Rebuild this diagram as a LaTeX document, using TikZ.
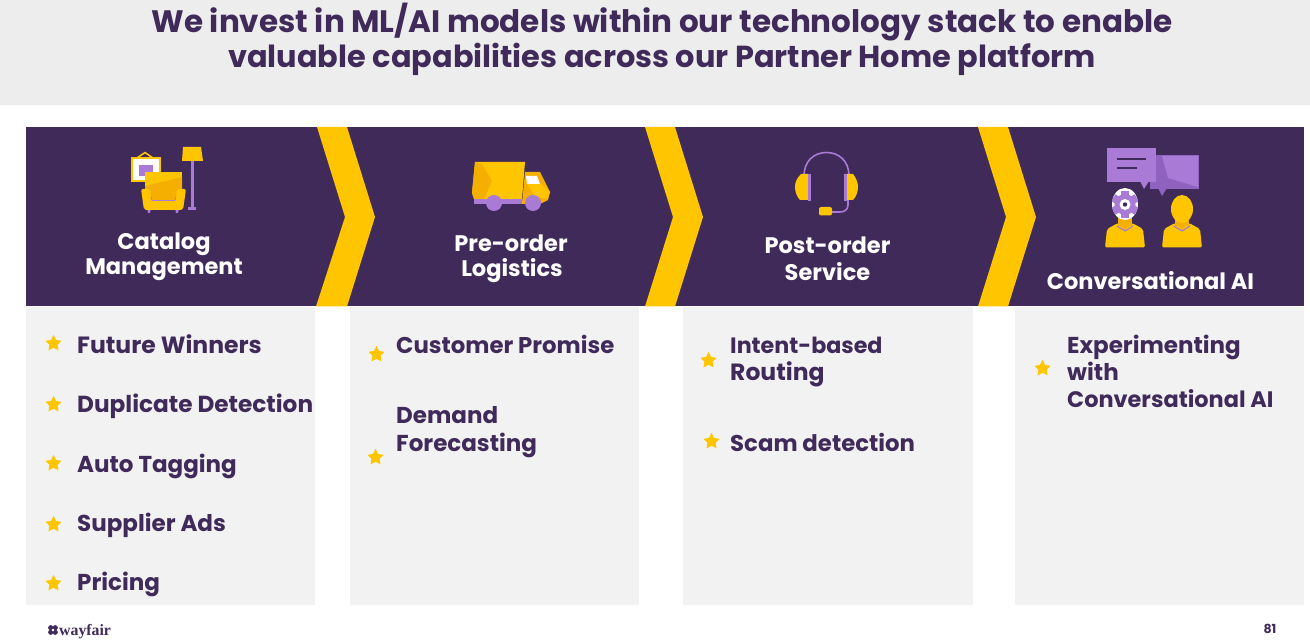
\documentclass[tikz,border=0pt]{standalone}
\usepackage{fontspec}
\setmainfont{Poppins}[BoldFont={Poppins Bold}]
\newfontfamily\logofont{Liberation Serif}
\usetikzlibrary{shapes.geometric}
\definecolor{wpurple}{HTML}{402A5A}
\definecolor{wyellow}{HTML}{FFC600}
\definecolor{wdark}{HTML}{F5AF00}
\definecolor{wlilac}{HTML}{A97BD6}
\definecolor{wlilacd}{HTML}{8E62BE}
\definecolor{wpanel}{HTML}{F2F2F2}
\definecolor{whead}{HTML}{EDEDED}
\tikzset{
 titletext/.style={text=wpurple,anchor=base,inner sep=0pt,font=\fontsize{31}{31}\selectfont\bfseries},
 headtext/.style={text=white,anchor=base,inner sep=0pt,font=\fontsize{22.5}{22}\selectfont\bfseries},
 itemtext/.style={text=wpurple,anchor=base west,inner sep=0pt,font=\fontsize{23}{23}\selectfont\bfseries},
 staricon/.style={star,star points=5,star point ratio=1.95,fill=wyellow,draw=none,minimum size=17pt,inner sep=0pt},
 panelbox/.style={fill=wpanel,draw=none},
 chevronshape/.style={fill=wyellow,draw=none},
}
\begin{document}
\begin{tikzpicture}[x=1pt,y=-1pt]
\useasboundingbox (0,0) rectangle (1310,644);
\fill[white] (0,0) rectangle (1310,644);
\fill[whead] (0,0) rectangle (1310,105.5);
\node[titletext] (t1) at (662,33) {We invest in ML/AI models within our technology stack to enable};
\node[titletext,font=\fontsize{30.4}{31}\selectfont\bfseries] (t2) at (662,68) {valuable capabilities across our Partner Home platform};
% band and panels
\fill[wpurple] (26,127) rectangle (1304,306.5);
\fill[panelbox] (26,307) rectangle (315,605);
\fill[panelbox] (350,307) rectangle (639,605);
\fill[panelbox] (683,307) rectangle (973,605);
\fill[panelbox] (1015,307) rectangle (1304,605);
% chevrons
\fill[chevronshape] (317,127)--(347,127)--(375,217)--(347,306.5)--(316,306.5)--(345,217)--cycle;
\fill[chevronshape] (645,127)--(675,127)--(703,217)--(675,306.5)--(645,306.5)--(673,217)--cycle;
\fill[chevronshape] (978,127)--(1008,127)--(1036,217)--(1008,306.5)--(978,306.5)--(1006,217)--cycle;
% headers
\node[headtext] (h1a) at (164,250) {Catalog};
\node[headtext] (h1b) at (164,275) {Management};
\node[headtext] (h2a) at (511,252) {Pre-order};
\node[headtext] (h2b) at (512,277) {Logistics};
\node[headtext] (h3a) at (827.5,254) {Post-order};
\node[headtext] (h3b) at (827.5,281) {Service};
\node[headtext] (h4) at (1150.5,290) {Conversational AI};
% column 1
\node[staricon] (s1) at (53.5,343.5) {};
\node[staricon] (s2) at (53.5,404.5) {};
\node[staricon] (s3) at (53.5,463.5) {};
\node[staricon] (s4) at (53.5,524.5) {};
\node[staricon] (s5) at (53.5,583.5) {};
\node[itemtext,font=\fontsize{23.5}{23}\selectfont\bfseries] (i1) at (77,354) {Future Winners};
\node[itemtext,font=\fontsize{23.2}{23}\selectfont\bfseries] (i2) at (77,413) {Duplicate Detection};
\node[itemtext] (i3) at (77,472) {Auto Tagging};
\node[itemtext] (i4) at (77,531) {Supplier Ads};
\node[itemtext] (i5) at (77,590) {Pricing};
% column 2
\node[staricon] (s6) at (376.5,354.5) {};
\node[staricon] (s7) at (375.5,457.5) {};
\node[itemtext,font=\fontsize{22.8}{23}\selectfont\bfseries] (i6) at (396,354) {Customer Promise};
\node[itemtext] (i7) at (396,424) {Demand};
\node[itemtext] (i8) at (396,451) {Forecasting};
% column 3
\node[staricon] (s8) at (708.5,360.5) {};
\node[staricon] (s9) at (711.5,441.5) {};
\node[itemtext,font=\fontsize{22.2}{23}\selectfont\bfseries] (i9) at (730,354) {Intent-based};
\node[itemtext,font=\fontsize{23.5}{23}\selectfont\bfseries] (i10) at (730,381) {Routing};
\node[itemtext,font=\fontsize{22.8}{23}\selectfont\bfseries] (i11) at (730,451) {Scam detection};
% column 4
\node[staricon] (s10) at (1042.5,368.5) {};
\node[itemtext] (i12) at (1067,354) {Experimenting};
\node[itemtext] (i13) at (1067,381) {with};
\node[itemtext,font=\fontsize{22.4}{23}\selectfont\bfseries] (i14) at (1067,408) {Conversational AI};
% catalog icon
\draw[wyellow,line width=1.5pt] (137,158)--(145,152.5)--(153,158);
\fill[white,draw=wyellow,line width=2pt] (131.5,158) rectangle (160,181);
\fill[wlilac] (139,165) rectangle (153,176);
\fill[wlilac] (147,208) -- (151,208) -- (150,213) -- (148,213) -- cycle;
\fill[wlilac] (175,208) -- (179,208) -- (178,213) -- (176,213) -- cycle;
\fill[wyellow] (145,172) rectangle (182,200);
\fill[wdark] (145,186) -- (182,177) -- (182,200) -- (145,200) -- cycle;
\fill[wyellow,rounded corners=2pt] (141,189) -- (150,189) -- (151,200) -- (176,200) -- (177,189) -- (186,189) -- (183,210) -- (144,210) -- cycle;
\draw[wlilac,line width=.8pt] (151,197) -- (152,200.5) -- (175,200.5) -- (176,197);
\fill[wyellow] (183,147) -- (201,147) -- (203,161) -- (182,161) -- cycle;
\fill[wlilac] (191,161) rectangle (194,208);
\fill[wlilac] (188,207.5) rectangle (196,210);
% truck icon
\fill[wlilac] (474,199) rectangle (526,204);
\fill[wyellow] (475,162) -- (525,162) -- (522,199) -- (474,199) -- (472,193) -- cycle;
\fill[wdark] (475,162) -- (482,164) -- (492,181) -- (484,199) -- (474,199) -- (472,193) -- cycle;
\fill[wdark] (525,172) -- (540,172) -- (550,192) -- (548,200) -- (540,204) -- (522,204) -- cycle;
\fill[wyellow] (527,184) -- (541,184) -- (550,192) -- (547,199) -- (535,196) -- cycle;
\fill[white] (526,176) -- (537,176) -- (540,184) -- (527,184) -- cycle;
\fill[wlilac] (494,203) circle (8);
\fill[wlilac] (533,203) circle (8);
% headset icon
\draw[wlilac,line width=1.6pt] (804,176) .. controls (804,161) and (814,152.5) .. (826.5,152.5) .. controls (839,152.5) and (849,161) .. (849,176);
\draw[wlilac,line width=1.6pt] (848,199) -- (848,205) .. controls (848,210) and (844,212) .. (840,212) -- (831,212);
\fill[wyellow] (801,174) .. controls (797,178) and (795,182) .. (795,187) .. controls (795,192) and (797,197) .. (800,200) -- (808,200) -- (808,174) -- cycle;
\fill[wyellow] (845,174) -- (853,174) .. controls (856,178) and (858,182) .. (858,187) .. controls (858,192) and (856,197) .. (853,200) -- (845,200) -- cycle;
\fill[wlilac] (808,174) rectangle (810.5,201);
\fill[wlilac] (844,174) rectangle (846.5,201);
\fill[wyellow,rounded corners=2pt] (819,207) rectangle (832,215.5);
% conversational icon
\fill[wlilacd] (1150,155) rectangle (1199,189);
\fill[wlilacd] (1158,188) -- (1162,196) -- (1167,188) -- cycle;
\fill[wlilac] (1162,156) -- (1198,156) -- (1198,187) -- (1168,178) -- cycle;
\fill[wlilac] (1107,148) rectangle (1156,182);
\fill[wlilac] (1140,181) -- (1144,189) -- (1149,181) -- cycle;
\draw[wpurple,line width=2pt] (1117,159) -- (1146,159) (1117,168) -- (1137,168);
\fill[wyellow,rounded corners=2pt] (1105,247.5) -- (1107,229) -- (1118,223) -- (1132,223) -- (1143,229) -- (1145,247.5) -- cycle;
\fill[wdark] (1118,214) rectangle (1132,226);
\fill[wdark] (1118,222) -- (1125,230) -- (1132,222) -- cycle;
\draw[wlilac,line width=1.2pt] (1117,226) -- (1125,231) -- (1133,226);
\begin{scope}
\fill[white] (1125,204) ellipse[x radius=13,y radius=16];
\clip (1125,204) ellipse[x radius=13,y radius=16];
\fill[wlilac] (1125,204.5) circle (10.5);
\foreach \a in {0,60,...,300}{\fill[wlilac,rotate around={\a:(1125,204.5)}] (1121,191) rectangle (1129,204);}
\fill[white] (1125,204.5) circle (5.5);
\fill[wpurple] (1125,204.5) circle (2.2);
\end{scope}
\fill[wyellow,rounded corners=2pt] (1162,247.5) -- (1164,229) -- (1175,223) -- (1189,223) -- (1200,229) -- (1202,247.5) -- cycle;
\fill[wdark] (1175,216) rectangle (1189,226);
\fill[wdark] (1175,222) -- (1182,230) -- (1189,222) -- cycle;
\draw[wlilac,line width=1.2pt] (1174,226) -- (1182,231) -- (1190,226);
\fill[wyellow] (1182,209) ellipse[x radius=11,y radius=14];
% footer
\foreach \a in {45,135,225,315}{\fill[wpurple] (53,630) ++(\a:3.2) circle (2.6);}
\fill[white] (53,630) circle (1.4);
\node[text=wpurple,anchor=base west,inner sep=0pt,font=\fontsize{15.8}{17}\selectfont\logofont\bfseries] (logo) at (59,635) {wayfair};
\node[text=wpurple,anchor=base,inner sep=0pt,font=\fontsize{12.5}{13}\selectfont\bfseries] (pg) at (1270,633) {81};
\end{tikzpicture}
\end{document}
